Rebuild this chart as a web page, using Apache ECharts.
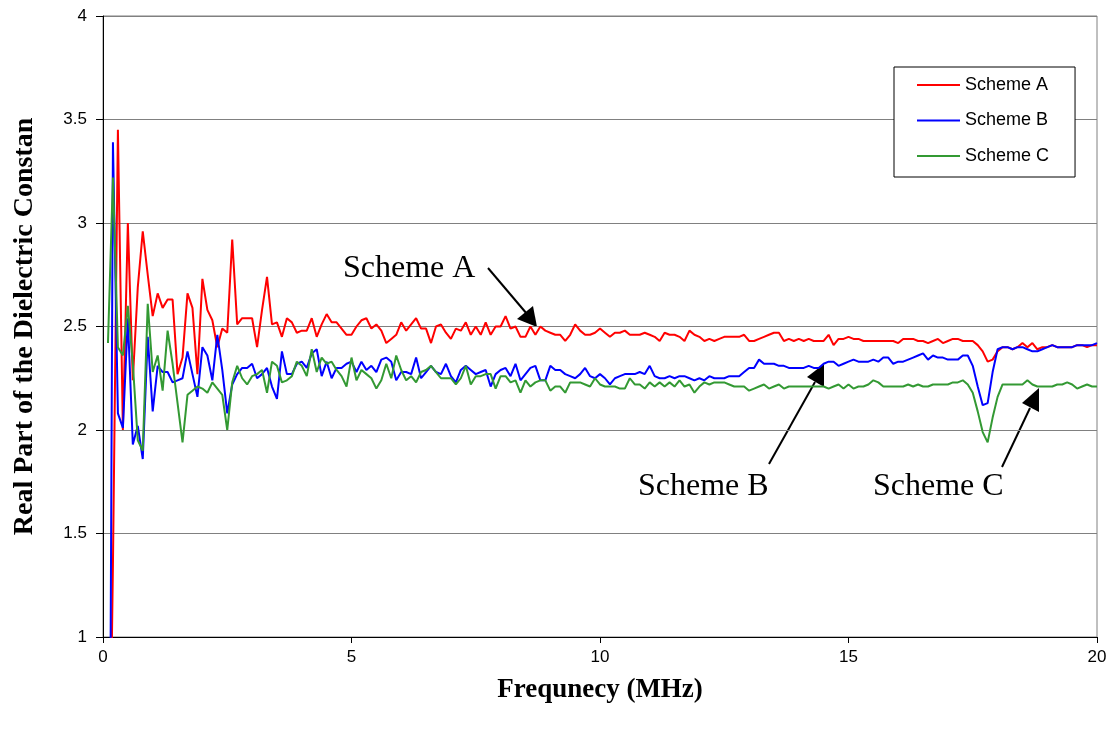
<!DOCTYPE html>
<html>
<head>
<meta charset="utf-8">
<script src="https://cdn.jsdelivr.net/npm/echarts@6/dist/echarts.min.js"></script>
<style>
html,body{margin:0;padding:0;background:#fff;}
#chart{width:1114px;height:736px;}
</style>
</head>
<body>
<div id="chart"></div>
<script>
// Sample grid: frequency (MHz) of each measured point, 0.1 MHz spacing from 0.1 to 20.0
const FREQ_START = 0.1;
const FREQ_STEP = 0.1;

const seriesNames = ['Scheme A', 'Scheme B', 'Scheme C'];

const schemeA = [
  -0.4, 1.35, 3.45, 2.0, 3.0, 2.24, 2.69, 2.96, 2.75, 2.55,
  2.66, 2.59, 2.63, 2.63, 2.27, 2.35, 2.66, 2.59, 2.27, 2.73,
  2.58, 2.53, 2.40, 2.49, 2.47, 2.92, 2.51, 2.54, 2.54, 2.54,
  2.40, 2.58, 2.74, 2.51, 2.52, 2.45, 2.54, 2.52, 2.47, 2.48,
  2.48, 2.54, 2.45, 2.51, 2.56, 2.52, 2.52, 2.49, 2.46, 2.46,
  2.50, 2.53, 2.54, 2.49, 2.51, 2.48, 2.42, 2.44, 2.46, 2.52,
  2.48, 2.51, 2.54, 2.49, 2.49, 2.42, 2.50, 2.51, 2.47, 2.44,
  2.49, 2.48, 2.52, 2.46, 2.50, 2.46, 2.52, 2.46, 2.50, 2.50,
  2.55, 2.49, 2.50, 2.45, 2.45, 2.50, 2.46, 2.50, 2.48, 2.47,
  2.46, 2.46, 2.43, 2.46, 2.51, 2.48, 2.46, 2.46, 2.47, 2.49,
  2.47, 2.45, 2.47, 2.47, 2.48, 2.46, 2.46, 2.46, 2.47, 2.46,
  2.45, 2.43, 2.47, 2.46, 2.46, 2.45, 2.43, 2.48, 2.46, 2.45,
  2.43, 2.44, 2.43, 2.44, 2.45, 2.45, 2.45, 2.45, 2.46, 2.43,
  2.43, 2.44, 2.45, 2.46, 2.47, 2.47, 2.43, 2.44, 2.43, 2.44,
  2.43, 2.44, 2.43, 2.43, 2.43, 2.46, 2.41, 2.44, 2.44, 2.45,
  2.44, 2.44, 2.43, 2.43, 2.43, 2.43, 2.43, 2.43, 2.43, 2.42,
  2.44, 2.44, 2.44, 2.43, 2.43, 2.42, 2.43, 2.44, 2.42, 2.43,
  2.44, 2.44, 2.43, 2.43, 2.43, 2.41, 2.38, 2.33, 2.34, 2.38,
  2.40, 2.40, 2.39, 2.40, 2.42, 2.40, 2.42, 2.39, 2.40, 2.40,
  2.41, 2.40, 2.40, 2.40, 2.40, 2.41, 2.41, 2.40, 2.41, 2.41
];

const schemeB = [
  -1.8, 3.39, 2.08, 2.01, 2.54, 1.93, 2.02, 1.86, 2.45, 2.09,
  2.31, 2.28, 2.28, 2.23, 2.24, 2.25, 2.38, 2.27, 2.16, 2.40,
  2.36, 2.24, 2.46, 2.29, 2.08, 2.22, 2.27, 2.30, 2.30, 2.32,
  2.25, 2.27, 2.30, 2.21, 2.15, 2.38, 2.27, 2.27, 2.32, 2.33,
  2.30, 2.37, 2.39, 2.26, 2.33, 2.25, 2.30, 2.30, 2.32, 2.33,
  2.28, 2.33, 2.29, 2.31, 2.28, 2.34, 2.35, 2.33, 2.24, 2.28,
  2.28, 2.27, 2.35, 2.25, 2.28, 2.31, 2.28, 2.27, 2.32, 2.26,
  2.23, 2.29, 2.31, 2.29, 2.27, 2.28, 2.29, 2.21, 2.27, 2.29,
  2.30, 2.26, 2.32, 2.24, 2.27, 2.30, 2.31, 2.24, 2.24, 2.31,
  2.29, 2.29, 2.27, 2.26, 2.25, 2.27, 2.30, 2.26, 2.25, 2.27,
  2.25, 2.22, 2.25, 2.26, 2.27, 2.27, 2.27, 2.28, 2.27, 2.31,
  2.26, 2.25, 2.25, 2.26, 2.25, 2.26, 2.26, 2.25, 2.24, 2.25,
  2.24, 2.26, 2.25, 2.25, 2.25, 2.26, 2.26, 2.26, 2.28, 2.30,
  2.30, 2.34, 2.32, 2.32, 2.32, 2.31, 2.31, 2.30, 2.30, 2.30,
  2.30, 2.31, 2.30, 2.30, 2.32, 2.33, 2.33, 2.31, 2.32, 2.33,
  2.34, 2.33, 2.33, 2.33, 2.34, 2.33, 2.35, 2.35, 2.32, 2.33,
  2.33, 2.34, 2.35, 2.36, 2.37, 2.34, 2.36, 2.35, 2.35, 2.34,
  2.34, 2.34, 2.36, 2.36, 2.31, 2.21, 2.12, 2.13, 2.28, 2.39,
  2.40, 2.40, 2.39, 2.40, 2.40, 2.39, 2.38, 2.38, 2.39, 2.40,
  2.41, 2.40, 2.40, 2.40, 2.40, 2.41, 2.41, 2.41, 2.41, 2.42
];

const schemeC = [
  2.42, 3.22, 2.40, 2.36, 2.60, 2.32, 1.95, 1.90, 2.61, 2.28,
  2.36, 2.19, 2.48, 2.32, 2.13, 1.94, 2.17, 2.19, 2.21, 2.20,
  2.18, 2.23, 2.20, 2.17, 2.00, 2.23, 2.31, 2.25, 2.22, 2.26,
  2.27, 2.29, 2.18, 2.33, 2.31, 2.23, 2.24, 2.26, 2.33, 2.31,
  2.26, 2.39, 2.28, 2.35, 2.32, 2.33, 2.29, 2.26, 2.21, 2.35,
  2.24, 2.29, 2.27, 2.25, 2.20, 2.24, 2.32, 2.25, 2.36, 2.29,
  2.24, 2.26, 2.23, 2.28, 2.29, 2.31, 2.28, 2.25, 2.25, 2.25,
  2.22, 2.25, 2.31, 2.22, 2.26, 2.26, 2.27, 2.27, 2.20, 2.26,
  2.26, 2.23, 2.24, 2.18, 2.24, 2.21, 2.23, 2.24, 2.24, 2.19,
  2.21, 2.21, 2.18, 2.23, 2.23, 2.23, 2.22, 2.21, 2.25, 2.22,
  2.21, 2.21, 2.21, 2.20, 2.20, 2.25, 2.22, 2.22, 2.20, 2.23,
  2.21, 2.23, 2.21, 2.23, 2.21, 2.24, 2.21, 2.22, 2.18, 2.21,
  2.23, 2.22, 2.23, 2.23, 2.23, 2.22, 2.21, 2.21, 2.21, 2.19,
  2.20, 2.21, 2.22, 2.20, 2.21, 2.22, 2.20, 2.21, 2.21, 2.21,
  2.21, 2.21, 2.21, 2.21, 2.21, 2.20, 2.21, 2.22, 2.20, 2.22,
  2.20, 2.21, 2.21, 2.22, 2.24, 2.23, 2.21, 2.21, 2.21, 2.21,
  2.21, 2.22, 2.21, 2.22, 2.21, 2.21, 2.22, 2.22, 2.22, 2.22,
  2.23, 2.23, 2.24, 2.22, 2.18, 2.09, 1.99, 1.94, 2.06, 2.16,
  2.22, 2.22, 2.22, 2.22, 2.22, 2.24, 2.22, 2.21, 2.21, 2.21,
  2.21, 2.22, 2.22, 2.23, 2.22, 2.20, 2.21, 2.22, 2.21, 2.21
];

const xTicks = [0, 5, 10, 15, 20];
const yTicks = [1, 1.5, 2, 2.5, 3, 3.5, 4];

const seriesColors = ['#FF0000', '#0000FF', '#339933'];

function toPairs(values) {
  return values.map(function (v, i) {
    return [Number((FREQ_START + i * FREQ_STEP).toFixed(2)), v];
  });
}

const chart = echarts.init(document.getElementById('chart'), null, { renderer: 'canvas' });

const serif = "'Liberation Serif', 'Times New Roman', serif";
const sans = "'Liberation Sans', Arial, sans-serif";

const option = {
  animation: false,
  backgroundColor: '#ffffff',
  grid: {
    left: 103, right: 17, top: 16, bottom: 99,
    show: true, borderColor: '#808080', borderWidth: 1, backgroundColor: 'transparent'
  },
  legend: {
    orient: 'vertical',
    left: 894, top: 67,
    data: seriesNames,
    padding: [9, 26, 12, 22],
    itemWidth: 43, itemHeight: 18, itemGap: 17.5,
    backgroundColor: '#ffffff',
    borderColor: '#000000', borderWidth: 1, borderRadius: 0,
    itemStyle: { opacity: 0 },
    lineStyle: { width: 2 },
    textStyle: { fontFamily: sans, fontSize: 18, color: '#000000', lineHeight: 18 }
  },
  xAxis: {
    type: 'value',
    min: xTicks[0], max: xTicks[xTicks.length - 1], interval: 5,
    name: 'Frequnecy (MHz)', nameLocation: 'middle', nameGap: 40,
    nameTextStyle: { fontFamily: serif, fontWeight: 'bold', fontSize: 27, color: '#000000' },
    axisLine: { lineStyle: { color: '#000000', width: 1 } },
    axisTick: { show: true, inside: false, length: 6, lineStyle: { color: '#000000' } },
    axisLabel: { fontFamily: sans, fontSize: 17, color: '#000000', margin: 12 },
    splitLine: { show: false }
  },
  yAxis: {
    type: 'value',
    min: yTicks[0], max: yTicks[yTicks.length - 1], interval: 0.5,
    name: 'Real Part of the Dielectric Constan', nameLocation: 'middle', nameGap: 64,
    nameTextStyle: { fontFamily: serif, fontWeight: 'bold', fontSize: 28, color: '#000000' },
    axisLine: { show: true, lineStyle: { color: '#000000', width: 1 } },
    axisTick: { show: true, inside: false, length: 7, lineStyle: { color: '#000000' } },
    axisLabel: { fontFamily: sans, fontSize: 17, color: '#000000', margin: 16 },
    splitLine: { show: true, lineStyle: { color: '#808080', width: 1 } }
  },
  series: [schemeA, schemeB, schemeC].map(function (vals, k) {
    return {
      name: seriesNames[k],
      type: 'line',
      data: toPairs(vals),
      symbol: 'none',
      clip: true,
      lineStyle: { color: seriesColors[k], width: 2 },
      itemStyle: { color: seriesColors[k] }
    };
  }),
  graphic: [
    { type: 'text', left: 343, top: 253, style: { text: 'Scheme A', font: '32px ' + serif, fill: '#000' } },
    { type: 'line', shape: { x1: 488, y1: 268, x2: 527, y2: 314 }, style: { stroke: '#000', lineWidth: 2 } },
    { type: 'polygon', shape: { points: [[537, 327], [517, 319], [533, 306]] }, style: { fill: '#000' } },

    { type: 'text', left: 638, top: 471, style: { text: 'Scheme B', font: '32px ' + serif, fill: '#000' } },
    { type: 'line', shape: { x1: 769, y1: 464, x2: 815, y2: 382 }, style: { stroke: '#000', lineWidth: 2 } },
    { type: 'polygon', shape: { points: [[824, 364], [807, 377], [824, 387]] }, style: { fill: '#000' } },

    { type: 'text', left: 873, top: 471, style: { text: 'Scheme C', font: '32px ' + serif, fill: '#000' } },
    { type: 'line', shape: { x1: 1002, y1: 467, x2: 1030, y2: 408 }, style: { stroke: '#000', lineWidth: 2 } },
    { type: 'polygon', shape: { points: [[1039, 388], [1022, 403], [1039, 412]] }, style: { fill: '#000' } }
  ]
};

chart.setOption(option);
</script>
</body>
</html>
